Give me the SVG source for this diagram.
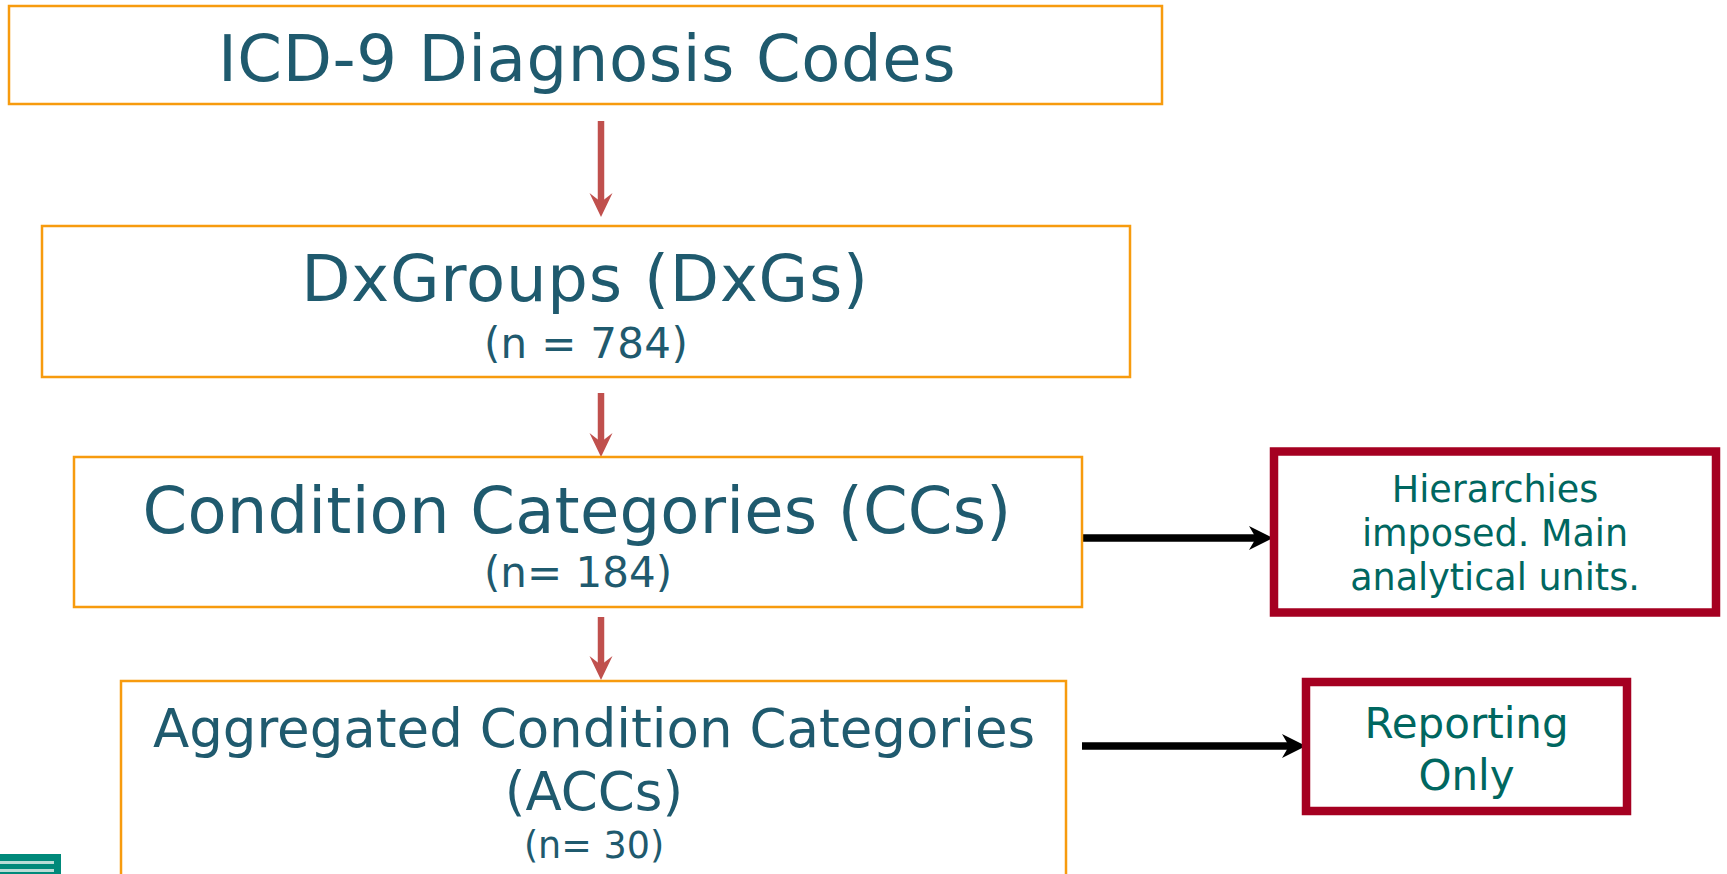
<svg xmlns="http://www.w3.org/2000/svg" width="1727" height="874" viewBox="0 0 1727 874">
  <style>
    .box { fill: #ffffff; stroke: #F79B0E; stroke-width: 2.5; }
    .note { fill: #ffffff; stroke: #A50021; stroke-width: 8.5; }
    .t { font-family: "DejaVu Sans", Verdana, sans-serif; fill: #1F5A6E; text-anchor: middle; }
    .nt { font-family: "DejaVu Sans", Verdana, sans-serif; fill: #006760; text-anchor: middle; }
    .flow { stroke: #C0504D; stroke-width: 6.5; fill: none; }
    .flowhead { fill: #C0504D; }
    .side { stroke: #000000; stroke-width: 7.5; fill: none; }
    .sidehead { fill: #000000; }
  </style>

  <rect width="1727" height="874" fill="#ffffff"/>

  <!-- connectors -->
  <g id="connectors">
    <!-- ICD-9 -> DxGroups -->
    <line class="flow" x1="601" y1="121" x2="601" y2="205"/>
    <path class="flowhead" d="M589.5,193 L601,217 L612.5,193 L601,202 Z"/>
    <!-- DxGroups -> CCs -->
    <line class="flow" x1="601" y1="393" x2="601" y2="445"/>
    <path class="flowhead" d="M589.5,433 L601,457 L612.5,433 L601,442 Z"/>
    <!-- CCs -> ACCs -->
    <line class="flow" x1="601" y1="617" x2="601" y2="668"/>
    <path class="flowhead" d="M589.5,656 L601,680 L612.5,656 L601,665 Z"/>
    <!-- CCs -> note -->
    <line class="side" x1="1083" y1="538" x2="1258" y2="538"/>
    <path class="sidehead" d="M1249,526 L1273,538 L1249,550 L1256,538 Z"/>
    <!-- ACCs -> note -->
    <line class="side" x1="1082" y1="746" x2="1291" y2="746"/>
    <path class="sidehead" d="M1282,734 L1306,746 L1282,758 L1289,746 Z"/>
  </g>

  <g id="icd9">
    <rect class="box" x="9" y="6" width="1153" height="98"/>
    <text class="t" x="587" y="81" font-size="64" letter-spacing="0.6">ICD-9 Diagnosis Codes</text>
  </g>

  <g id="dxgroups">
    <rect class="box" x="42" y="226" width="1088" height="151"/>
    <text class="t" x="585" y="301" font-size="64" letter-spacing="0.8">DxGroups (DxGs)</text>
    <text class="t" x="586" y="358" font-size="42" letter-spacing="0.3">(n = 784)</text>
  </g>

  <g id="ccs">
    <rect class="box" x="74" y="457" width="1008" height="150"/>
    <text class="t" x="577" y="533" font-size="64" letter-spacing="0.2">Condition Categories (CCs)</text>
    <text class="t" x="578" y="587" font-size="42">(n= 184)</text>
  </g>

  <g id="accs">
    <rect class="box" x="121" y="681" width="945" height="210"/>
    <text class="t" x="594" y="747" font-size="53">Aggregated Condition Categories</text>
    <text class="t" x="594" y="810" font-size="53">(ACCs)</text>
    <text class="t" x="594" y="858" font-size="36.5">(n= 30)</text>
  </g>

  <g id="note-hierarchies">
    <rect class="note" x="1274" y="451.5" width="442" height="161"/>
    <text class="nt" x="1495" y="502" font-size="36.5">Hierarchies</text>
    <text class="nt" x="1495" y="546" font-size="36.5">imposed. Main</text>
    <text class="nt" x="1495" y="590" font-size="36.5">analytical units.</text>
  </g>

  <g id="note-reporting">
    <rect class="note" x="1306" y="682" width="321" height="129" stroke-width="8"/>
    <text class="nt" x="1466.5" y="738" font-size="42">Reporting</text>
    <text class="nt" x="1466.5" y="790" font-size="42">Only</text>
  </g>

  <!-- footer badge, cut off at the lower edge -->
  <g id="badge">
    <rect x="0" y="854" width="61" height="20" fill="#00897A"/>
    <rect x="0" y="861" width="54" height="3" fill="#B9DCD6"/>
    <rect x="0" y="869" width="54" height="3" fill="#B9DCD6"/>
  </g>
</svg>
